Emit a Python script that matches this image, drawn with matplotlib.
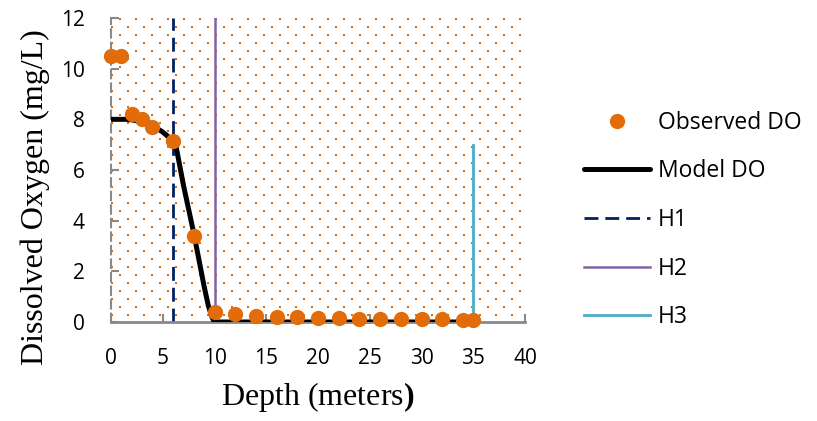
import matplotlib

matplotlib.use("Agg")
import matplotlib.pyplot as plt
import numpy as np

# observed dissolved oxygen profile
obs_depth = [0, 1, 2, 3, 4, 6, 8, 10, 12, 14, 16, 18, 20, 22, 24, 26, 28, 30, 32, 34, 35]
obs_do = [10.5, 10.5, 8.2, 8.0, 7.7, 7.15, 3.38, 0.4, 0.3, 0.25, 0.21, 0.2, 0.17,
          0.14, 0.12, 0.12, 0.1, 0.1, 0.1, 0.09, 0.09]

# model curve
model_depth = [0, 1, 1.5, 2, 3, 4, 5, 6, 6.3, 7, 8, 9, 9.4, 9.7, 9.9, 10.1, 11, 20, 35]
model_do = [8.0, 8.0, 8.0, 7.98, 7.9, 7.75, 7.5, 7.15, 6.9, 5.4, 3.5, 1.4, 0.65, 0.25,
            0.07, 0.0, 0.0, 0.0, 0.0]

# horizon markers
h_names = ["H1", "H2", "H3"]
h_depth = [6, 10, 35]
h_top = [12, 12, 7]
h_colors = ["#002060", "#8064A2", "#4BACC6"]

ORANGE = "#E36C0A"
GRAY = "#898989"
TICK_FONT = "Open Sans"
LABEL_FONT = "Liberation Serif"

plt.rcParams.update({
    "mathtext.fontset": "custom",
    "mathtext.rm": "Liberation Serif",
    "mathtext.bf": "Liberation Serif:bold",
})

W, H = 817, 421
fig = plt.figure(figsize=(W / 100, H / 100), dpi=100)
ax = fig.add_axes([111 / W, 1 - 322 / H, (525 - 111) / W, (322 - 18) / H])

# dotted background pattern (Excel-like fill)
ax_w, ax_h = 525 - 111, 322 - 18
px, py = [], []
for i, yy in enumerate(np.arange(1, ax_h, 8)):
    start = 9 if i % 2 == 0 else 1
    for xx in np.arange(start, ax_w, 16):
        px.append(xx / ax_w)
        py.append(1 - yy / ax_h)
ax.plot(px, py, ls="none", marker="s", ms=1.5, mew=0, color=ORANGE,
        transform=ax.transAxes, zorder=0)

# horizons
styles = [dict(lw=2, dashes=(5, 2.5)), dict(lw=1.8), dict(lw=2)]
h_handles = []
for name, d, top, c, st in zip(h_names, h_depth, h_top, h_colors, styles):
    ln, = ax.plot([d, d], [0, top], color=c, label=name, zorder=2, **st)
    h_handles.append(ln)

model, = ax.plot(model_depth, model_do, color="black", lw=3.6, label="Model DO",
                 solid_capstyle="round", solid_joinstyle="round", zorder=3)
obs, = ax.plot(obs_depth, obs_do, ls="none", marker="o", ms=11, mew=0,
               color=ORANGE, label="Observed DO", zorder=4, clip_on=False)

ax.set_xlim(0, 40)
ax.set_ylim(0, 12)
ax.set_xticks(np.arange(0, 41, 5))
ax.set_yticks(np.arange(0, 13, 2))
ax.tick_params(direction="in", length=6, width=1.5, color=GRAY, pad=19,
               labelsize=15)
for lab in ax.get_xticklabels() + ax.get_yticklabels():
    lab.set_fontfamily(TICK_FONT)

for s in ["top", "right"]:
    ax.spines[s].set_visible(False)
ax.spines["bottom"].set_color(GRAY)
ax.spines["bottom"].set_linewidth(2)
ax.spines["left"].set_color(GRAY)
ax.spines["left"].set_linewidth(1.5)
ax.spines["left"].set_linestyle((0, (4, 2.5)))
ax.set_facecolor("white")

ax.set_xlabel(r"Depth (meters$\mathbf{)}$", fontfamily=LABEL_FONT, fontsize=23,
              labelpad=8)
ax.set_ylabel("Dissolved Oxygen (mg/L)", fontfamily=LABEL_FONT, fontsize=23)
ax.yaxis.set_label_coords((50 - 111) / ax_w, (322 - 197) / ax_h)

ax.legend(handles=[obs, model] + h_handles, loc="center left",
          bbox_to_anchor=(563 / W, 1 - 220 / H), bbox_transform=fig.transFigure,
          frameon=False, handlelength=2.9, handletextpad=0.35, labelspacing=1.07,
          prop={"family": TICK_FONT, "size": 16.5})

fig.savefig("out.png", dpi=100)
